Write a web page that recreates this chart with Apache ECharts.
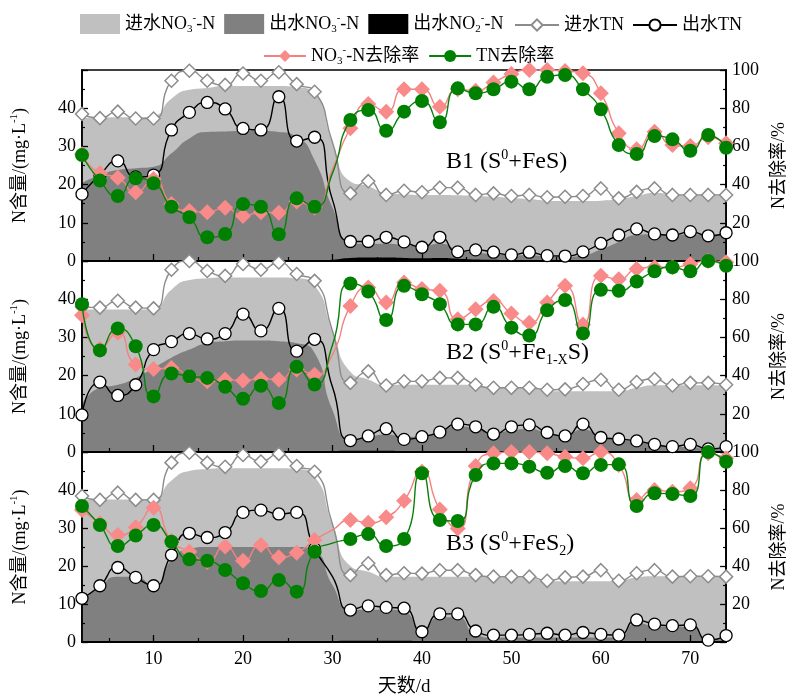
<!DOCTYPE html>
<html><head><meta charset="utf-8">
<script src="https://cdn.jsdelivr.net/npm/echarts@6/dist/echarts.min.js"></script>
<style>html,body{margin:0;padding:0;background:#fff}#c{width:796px;height:698px}</style>
</head><body><div id="c"></div>
<script>
// ---------- data ----------
const days = [2,4,6,8,10,12,14,16,18,20,22,24,26,28,30,32,34,36,38,40,42,44,46,48,50,52,54,56,58,60,62,64,66,68,70,72,74];
const hiddenMarkerDays = [30];
const xLabelValues = [10,20,30,40,50,60,70];
const xMinorTicks = [5,15,25,35,45,55,65];

// B1
const b1InNO3  = [37.5,37.5,37.6,37.6,38,42.5,44.8,45.3,45.8,45.8,45.8,45.8,45.5,43.9,31,20.8,19.6,17.8,17.5,17.3,17.3,17.2,17,16.8,16.5,16.2,15.8,15.7,15.7,15.8,16.2,17,17.8,17.5,17.3,17.3,17.3];
const b1OutNO3 = [20.4,22.5,23.8,24.3,24.7,28.2,32.1,33.8,33.9,34,34,33.8,32.5,26.4,14,5,4.5,4.5,4.2,3.8,4.5,3,2.2,1.8,1.5,1.5,1.2,1.1,1.5,3,5,6.8,7,6.8,7,6.8,6.8];
const b1OutNO2 = [0,0,0,0,0,0,0,0,0,0,0,0,0,0,0.3,0.8,0.9,0.9,0.8,0.7,0.8,0.6,0.4,0.3,0.2,0.2,0.1,0.1,0.1,0.1,0.1,0.1,0.1,0.1,0.1,0.1,0.1];
const b1InTN   = [38.5,37.4,39.1,37.3,37.3,47.2,49.8,47.2,46.1,49.1,47.2,49.4,46.3,44.3,31,17.7,20.9,17.3,18.4,18.0,19.2,19.2,17.3,17.7,17.0,17.3,16.7,16.8,17.0,19.0,16.4,18.1,19.0,17.3,17.3,17.3,17.3];
const b1OutTN  = [17.5,22.5,26.2,22.0,22.5,34.3,38.9,41.5,39.8,34.7,34.3,43.0,31.4,32.4,16,5.1,5.1,6.2,5.0,3.6,6.2,2.4,2.9,2.3,1.6,2.3,1.4,1.3,2.4,4.6,6.8,8.4,7.1,6.8,7.7,6.6,7.4];
const b1NO3Rem = [55.9,45.9,43.6,36.0,42.9,29.8,26.2,25.5,27.9,23.6,25.5,25.3,31.1,28,48,69.5,82.2,78.2,89.9,89.9,80.8,89.9,89.2,93.4,97.9,100,100,99.5,98.3,87.8,66.9,58.5,67.7,60.7,60.2,64.8,61.6];
const b1TNRem  = [55.5,42.1,34.0,43.3,40.7,28.4,22.9,12.4,14.1,29.8,28.4,14.0,32.8,28.4,46,73.8,79.0,68.2,78.2,83.8,72.6,90.4,87.8,89.9,93.9,89.9,96.5,97.4,89.9,79.4,60.7,56.0,65.4,63.7,57.7,66.0,59.3];

// B2
const b2InNO3  = [37.3,37.3,37.3,37.3,37.5,42.5,45,45.5,45.7,45.7,45.7,45.7,45.5,43.5,31.7,21,19,17.6,17.6,17.6,17.6,17.6,17.4,16.8,16.8,16.8,15.9,15.9,15.9,15.9,15.9,16.8,17.5,17.5,17.5,17.5,17.5];
const b2OutNO3 = [12.4,16.8,17.6,19.4,22,24.7,26.8,28.5,29,29.2,29.2,29,28.5,26,11,3.5,4,4.6,4,4.2,5.5,6.7,6.2,5,5.6,6,5,4.5,5.9,4,3.2,2.8,2,1.3,1.3,0.8,1.0];
const b2OutNO2 = [0,0,0,0,0,0,0,0,0,0,0,0,0,0,0.2,0.3,0.3,0.3,0.2,0.2,0.2,0.2,0.2,0.2,0.2,0.2,0.2,0.2,0.2,0.2,0.2,0.2,0.2,0.2,0.2,0.2,0.2];
const b2InTN   = [38,37.8,39.6,37.8,37.6,47.7,50,47.4,46.1,49.2,47.7,49.6,46.6,44.8,31.7,18.1,21.1,17.4,18.5,18.5,19.4,19.4,17.6,16.8,16.8,16.8,16.3,16.4,17.8,18.9,16.3,18.3,19.1,17.4,18.1,18.1,17.6];
const b2OutTN  = [9.7,18.3,14.8,17.6,26.8,28.9,31.0,29.6,31.0,36.1,31.7,37.6,26.4,29.5,17,3.0,4.2,6.1,3.3,4.0,5.2,7.3,6.6,4.7,6.6,7.1,5.1,4.2,7.3,3.8,3.4,2.9,2.0,1.4,2.0,0.8,1.4];
const b2NO3Rem = [71.6,54.1,62.5,45.8,43.5,44.0,39.6,37.0,37.9,37.4,38.4,37.9,43.2,40.5,51,76.5,86.1,78.3,88.8,85.3,84.4,69.5,74.7,79.1,72.5,67.7,78.3,87.0,66.8,92.3,90.5,95.8,96.7,96.7,98.4,100,99.3];
const b2TNRem  = [77.4,53.2,64.7,55.4,29.1,41.1,39.6,38.8,34.1,27.9,34.7,25.6,44.6,35.3,56,88.2,84.0,69.1,87.0,82.6,77.4,66.8,66.8,76.0,65.1,61.0,74.2,79.6,62.1,84.9,84.4,89.3,94.6,96.7,94.6,100,97.5];

// B3
const b3InNO3  = [37.5,37.5,37.5,37.5,37.8,42.5,45,45.5,45.7,45.7,45.7,45.7,45.5,43.5,31,20,18.5,17.2,17.2,17.2,17.2,17.2,17.2,17.2,17.2,17,16,16,16,16,16.2,17,17.3,17.3,17.3,17.3,17.3];
const b3OutNO3 = [10.6,14.6,17.2,17.2,14.8,21.6,24.5,25,25,25,25,25,25,24,15,8.5,8.5,8.5,8,3,6.5,6.5,2,1.2,1.2,1.2,1.2,1.2,1.2,1.2,1.2,5,4.2,4,4,0.5,1];
const b3OutNO2 = [0,0,0,0,0,0,0,0,0,0,0,0,0,0,0.2,0.3,0.3,0.3,0.3,0.2,0.2,0.2,0.2,0.2,0.2,0.2,0.2,0.2,0.2,0.2,0.2,0.2,0.2,0.2,0.2,0.2,0.2];
const b3InTN   = [38.4,37.4,39.3,37.4,37.4,47.2,49.8,47.2,46.1,49.2,47.5,49.5,46.3,44.8,31,17.6,20.7,17.6,18.1,18.0,18.9,18.9,17.6,17.2,17.2,17.2,16.1,17.0,17.2,18.9,16.1,18.1,18.9,17.2,17.3,17.3,17.2];
const b3OutTN  = [11.5,14.8,19.6,17.0,14.8,22.9,28.6,27.5,28.8,34.1,34.7,33.7,34.1,24.5,17.2,8.4,9.5,9.1,8.9,2.7,7.4,7.4,2.9,1.8,1.8,2.0,2.3,1.8,2.5,2.0,1.8,5.8,4.7,4.3,4.5,0.5,1.7];
const b3NO3Rem = [69.5,62.5,56.3,60.4,70.7,53.3,47.5,42.3,50.2,42.8,51.1,44.6,47.0,53.7,59,64.2,62.8,65.6,74.4,89.6,69.8,59.8,92.6,99.3,100,100,99.3,97.5,96.7,100,93.2,74.7,80.0,79.1,80.9,99.3,96.7];
const b3TNRem  = [71.6,61.6,50.5,56.0,61.6,52.8,43.5,42.8,37.9,30.9,26.8,32.6,26.5,47.5,52,54.2,56.8,50.5,54.2,88.8,64.2,63.7,87.9,94.0,94.0,92.3,89.1,92.6,88.8,93.2,93.5,71.6,78.3,77.9,76.8,100,94.9];

const panels = [
  {label:'{a|B1 (S}{sup|0}{a|+FeS)}', inNO3:b1InNO3, outNO3:b1OutNO3, outNO2:b1OutNO2, inTN:b1InTN, outTN:b1OutTN, no3Rem:b1NO3Rem, tnRem:b1TNRem},
  {label:'{a|B2 (S}{sup|0}{a|+Fe}{sub|1-X}{a|S)}', inNO3:b2InNO3, outNO3:b2OutNO3, outNO2:b2OutNO2, inTN:b2InTN, outTN:b2OutTN, no3Rem:b2NO3Rem, tnRem:b2TNRem},
  {label:'{a|B3 (S}{sup|0}{a|+FeS}{sub|2}{a|)}', inNO3:b3InNO3, outNO3:b3OutNO3, outNO2:b3OutNO2, inTN:b3InTN, outTN:b3OutTN, no3Rem:b3NO3Rem, tnRem:b3TNRem}
];

// ---------- styling ----------
const FONT = "'Liberation Serif','Times New Roman','Noto Sans CJK SC',serif";
const richBase = (fs) => ({
  a:{fontSize:fs, fontFamily:FONT, color:'#000', fontWeight:'normal', lineHeight:fs+4},
  t:{fontSize:fs, fontFamily:FONT, color:'#000', fontWeight:'normal', lineHeight:fs+4},
  sup:{fontSize:Math.round(fs*0.6), fontFamily:FONT, color:'#000', fontWeight:'normal', lineHeight:Math.round(fs*0.6)+1, verticalAlign:'top'},
  sub:{fontSize:Math.round(fs*0.6), fontFamily:FONT, color:'#000', fontWeight:'normal', lineHeight:Math.round(fs*0.6)+1, verticalAlign:'bottom'}
});
const NAMES = {
  inNO3:'进水NO3-N', outNO3:'出水NO3-N', outNO2:'出水NO2-N', inTN:'进水TN', outTN:'出水TN', no3Rem:'NO3-N去除率', tnRem:'TN去除率'
};
const legendRich = {
  '进水NO3-N':'{t|进水NO}{sub|3}{sup|-}{t|-N}',
  '出水NO3-N':'{t|出水NO}{sub|3}{sup|-}{t|-N}',
  '出水NO2-N':'{t|出水NO}{sub|2}{sup|-}{t|-N}',
  '进水TN':'{t|进水TN}',
  '出水TN':'{t|出水TN}',
  'NO3-N去除率':'{t|NO}{sub|3}{sup|-}{t|-N去除率}',
  'TN去除率':'{t|TN去除率}'
};

const gridTops = [70, 261, 452];
const gridH = 191;
const SMOOTH = 0.6;
const grids = [], xAxes = [], yAxes = [], series = [], titles = [];

function pts(arr, hideMarkers) {
  return days.map((d, i) => {
    if (arr[i] == null) return [d, null];
    if (hideMarkers && hiddenMarkerDays.indexOf(d) >= 0) return {value:[d, arr[i]], symbol:'none'};
    return [d, arr[i]];
  });
}

panels.forEach((p, gi) => {
  grids.push({left:82, right:64, top:gridTops[gi], height:gridH, show:true, borderColor:'#000', borderWidth:1.5, backgroundColor:'transparent'});
  xAxes.push({
    gridIndex:gi, type:'value', min:2, max:74, position:'bottom', z:5,
    axisLine:{onZero:false, lineStyle:{color:'#000', width:1.8}},
    axisTick:{inside:true, length:7, customValues:xLabelValues, lineStyle:{color:'#000', width:1.3}},
    axisLabel:{show:gi===2, customValues:xLabelValues, color:'#000', fontSize:18, fontFamily:FONT, margin:8},
    splitLine:{show:false},
    name: gi===2 ? '天数/d' : '', nameLocation:'middle', nameGap:36,
    nameTextStyle:{fontSize:19, fontFamily:FONT, color:'#000'}
  });
  xAxes.push({
    gridIndex:gi, type:'value', min:2, max:74, position:'bottom', z:5,
    axisLine:{show:false},
    axisTick:{inside:true, length:4, customValues:xMinorTicks, lineStyle:{color:'#000', width:1.2}},
    axisLabel:{show:false}, splitLine:{show:false}
  });
  yAxes.push({
    gridIndex:gi, type:'value', min:0, max:50, interval:10, position:'left', z:5,
    axisLine:{show:true, lineStyle:{color:'#000', width:1.8}},
    axisTick:{show:true, inside:true, length:6, lineStyle:{color:'#000', width:1.3}},
    minorTick:{show:true, splitNumber:2, length:3, lineStyle:{color:'#000', width:1.2}},
    axisLabel:{color:'#000', fontSize:18, fontFamily:FONT, showMaxLabel:false, margin:6},
    splitLine:{show:false},
    name:'{a|N含量/(mg·L}{sup|-1}{a|)}', nameLocation:'middle', nameGap:51, nameRotate:90,
    nameTextStyle:{rich:richBase(18)}
  });
  yAxes.push({
    gridIndex:gi, type:'value', min:0, max:100, interval:20, position:'right', z:5,
    axisLine:{show:true, lineStyle:{color:'#000', width:1.8}},
    axisTick:{show:true, inside:true, length:6, lineStyle:{color:'#000', width:1.3}},
    minorTick:{show:true, splitNumber:2, length:3, lineStyle:{color:'#000', width:1.2}},
    axisLabel:{color:'#000', fontSize:18, fontFamily:FONT, showMinLabel:false, margin:6},
    splitLine:{show:false},
    name:'N去除率/%', nameLocation:'middle', nameGap:40, nameRotate:90,
    nameTextStyle:{fontSize:18, fontFamily:FONT, color:'#000'}
  });
  const xi = gi*2, yl = gi*2, yr = gi*2+1;
  const area = (key, color, z) => ({
    name:NAMES[key], type:'line', xAxisIndex:xi, yAxisIndex:yl, data:pts(p[key], false),
    smooth:SMOOTH, showSymbol:false, symbol:'rect', lineStyle:{width:0, color:color}, itemStyle:{color:color},
    areaStyle:{color:color, opacity:1}, z:z, silent:true
  });
  series.push(area('inNO3', '#c0c0c0', 1));
  series.push(area('outNO3', '#808080', 1.1));
  series.push(area('outNO2', '#000000', 1.2));
  series.push({
    name:NAMES.inTN, type:'line', xAxisIndex:xi, yAxisIndex:yl, data:pts(p.inTN, true),
    smooth:SMOOTH, connectNulls:true, symbol:'diamond', symbolSize:13,
    lineStyle:{color:'#8c8c8c', width:1.4},
    itemStyle:{color:'#ffffff', borderColor:'#8c8c8c', borderWidth:1.5}, z:6
  });
  series.push({
    name:NAMES.outTN, type:'line', xAxisIndex:xi, yAxisIndex:yl, data:pts(p.outTN, true),
    smooth:SMOOTH, connectNulls:true, symbol:'circle', symbolSize:12,
    lineStyle:{color:'#000', width:1.4},
    itemStyle:{color:'#ffffff', borderColor:'#000', borderWidth:1.3}, z:7
  });
  series.push({
    name:NAMES.no3Rem, type:'line', xAxisIndex:xi, yAxisIndex:yr, data:pts(p.no3Rem, true),
    smooth:SMOOTH, connectNulls:true, symbol:'diamond', symbolSize:16,
    lineStyle:{color:'#f58080', width:1.4},
    itemStyle:{color:'#f88a8a', borderColor:'#f88a8a', borderWidth:0}, z:8
  });
  series.push({
    name:NAMES.tnRem, type:'line', xAxisIndex:xi, yAxisIndex:yr, data:pts(p.tnRem, true),
    smooth:SMOOTH, connectNulls:true, symbol:'circle', symbolSize:14,
    lineStyle:{color:'#0a800a', width:1.4},
    itemStyle:{color:'#008000', borderColor:'#008000', borderWidth:0}, z:9
  });
  titles.push({
    text:p.label, left:446, top:gridTops[gi]+78, padding:0,
    textStyle:{fontWeight:'normal', rich:richBase(24)}
  });
});

const legendBase = {
  padding:0, itemGap:9,
  textStyle:{rich:richBase(18)},
  formatter:(n) => legendRich[n] || n,
  selectedMode:false
};

const option = {
  animation:false,
  backgroundColor:'#fff',
  title:titles,
  legend:[
    Object.assign({}, legendBase, {top:13, left:80, itemWidth:40, itemHeight:20,
      data:[{name:NAMES.inNO3, icon:'rect'},{name:NAMES.outNO3, icon:'rect'},{name:NAMES.outNO2, icon:'rect'}]}),
    Object.assign({}, legendBase, {top:16, left:514, itemWidth:44, itemHeight:14, itemGap:8,
      data:[NAMES.inTN, NAMES.outTN]}),
    Object.assign({}, legendBase, {top:45, left:263, itemWidth:42, itemHeight:15,
      data:[NAMES.no3Rem, NAMES.tnRem]})
  ],
  grid:grids, xAxis:xAxes, yAxis:yAxes, series:series
};

const chart = echarts.init(document.getElementById('c'), null, {renderer:'canvas'});
chart.setOption(option);
</script>
</body></html>
